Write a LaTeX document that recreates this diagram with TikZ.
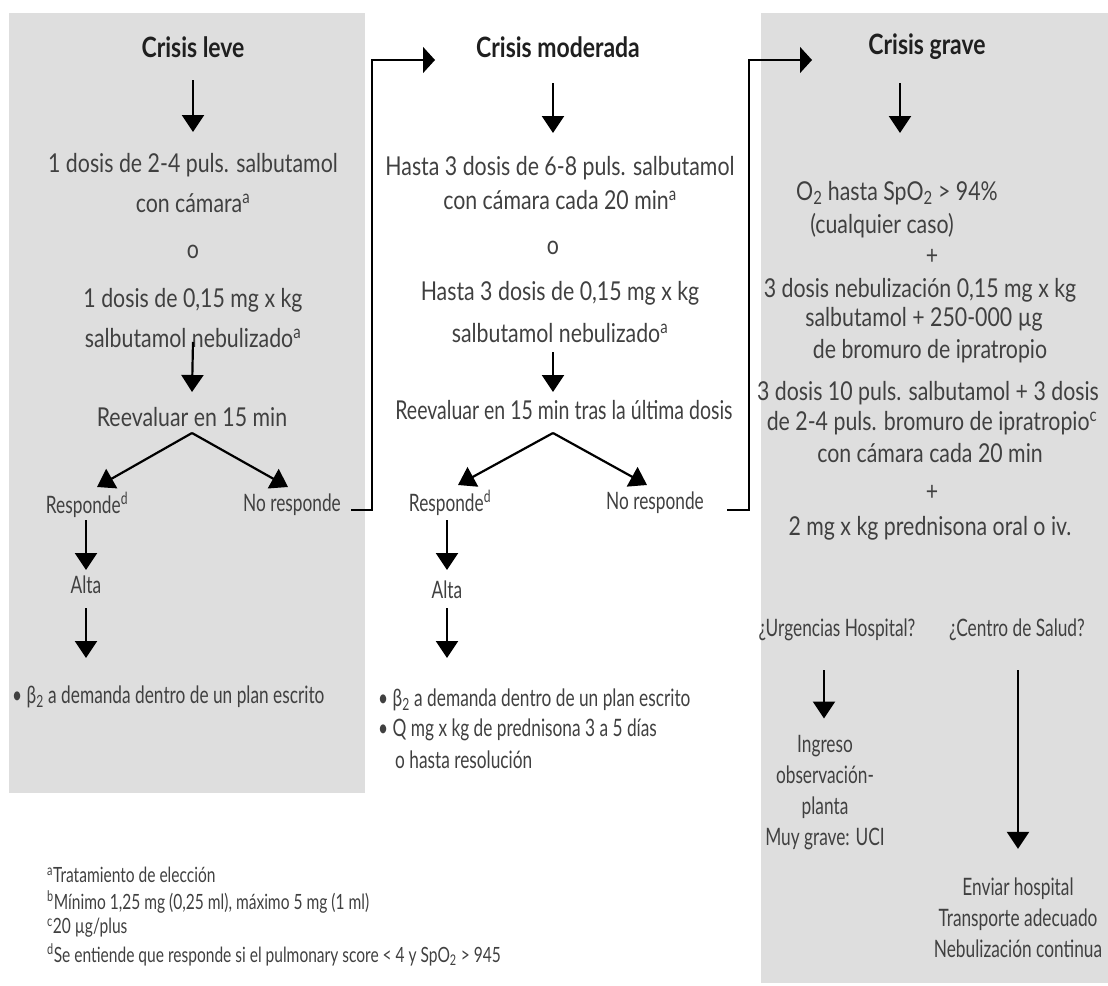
\documentclass[tikz,border=0pt]{standalone}
\usepackage{fontspec}
\setmainfont{Lato}
\usetikzlibrary{arrows.meta,calc}
\definecolor{panel}{HTML}{DEDEDE}
\definecolor{ink}{HTML}{404040}
\tikzset{
  txt/.style={font=\fontsize{26}{30}\selectfont\addfontfeatures{FakeStretch=0.82}, text=ink, inner sep=0pt, align=center},
  ttl/.style={font=\fontsize{28}{32}\selectfont\bfseries\addfontfeatures{FakeStretch=0.82}, text=black!88, inner sep=0pt},
  sm/.style={font=\fontsize{24}{28}\selectfont\addfontfeatures{FakeStretch=0.72}, text=ink, inner sep=0pt},
  stack/.style={sm, align=center, font=\fontsize{24}{31}\selectfont\addfontfeatures{FakeStretch=0.72}},
  note/.style={font=\fontsize{21}{25}\selectfont\addfontfeatures{FakeStretch=0.74}, text=ink, inner sep=0pt, anchor=west},
  down/.style={line width=2.2pt, -{Triangle[width=22pt,length=17pt]}},
  link/.style={line width=1.4pt, -{Triangle[width=26pt,length=12pt]}},
}
\begin{document}
\begin{tikzpicture}[x=1pt,y=-1pt]
\useasboundingbox (0,0) rectangle (1108,985);
% shaded panels for mild and severe crises
\fill[panel] (9,13) rectangle (365,793);
\fill[panel] (761,13) rectangle (1108,983);

% ---- mild crisis ----
\node[ttl] (L1) at (193,47) {Crisis leve};
\node[txt] (L2) at (193,165) {1 dosis de 2-4 puls. salbutamol};
\node[txt] (L3) at (193,203) {con cámara\textsuperscript{a}};
\node[txt] (L4) at (193,252) {o};
\node[txt] (L5) at (193,300) {1 dosis de 0,15 mg x kg};
\node[txt] (L6) at (193,338) {salbutamol nebulizado\textsuperscript{a}};
\node[txt] (L7) at (192,417) {Reevaluar en 15 min};
\node[sm] (L8) at (87,505) {Responde\textsuperscript{d}};
\node[sm] (L9) at (292,505) {No responde};
\node[sm] (L10) at (86,585) {Alta};
\node[sm, anchor=west] (L11) at (12,697) {• β\textsubscript{2} a demanda dentro de un plan escrito};

\draw[down] ($(L1.center)+(0,33)$) -- ($(L2.center)+(0,-33)$);
\draw[down] ($(L6.center)+(0,4)$) -- ($(L7.center)+(0,-25)$);
\draw[down] ($(L7.center)+(0,16)$) -- ($(L8.center)+(10,-18)$);
\draw[down] ($(L7.center)+(0,16)$) -- ($(L9.center)+(-4,-18)$);
\draw[down] ($(L8.center)+(-1,15)$) -- ($(L10.center)+(0,-15)$);
\draw[down] ($(L10.center)+(0,23)$) -- ($(L10.center |- L11.center)+(0,-39)$);

% ---- moderate crisis ----
\node[ttl] (M1) at (558,47) {Crisis moderada};
\node[txt] (M2) at (560,168) {Hasta 3 dosis de 6-8 puls. salbutamol};
\node[txt] (M3) at (560,200) {con cámara cada 20 min\textsuperscript{a}};
\node[txt] (M4) at (553,248) {o};
\node[txt] (M5) at (560,293) {Hasta 3 dosis de 0,15 mg x kg};
\node[txt] (M6) at (560,333) {salbutamol nebulizado\textsuperscript{a}};
\node[txt, font=\fontsize{26}{30}\selectfont\addfontfeatures{FakeStretch=0.75}] (M7) at (564,410)
  {Reevaluar en 15 min tras la última dosis};
\node[sm] (M8) at (450,503) {Responde\textsuperscript{d}};
\node[sm] (M9) at (655,503) {No responde};
\node[sm] (M10) at (447,590) {Alta};
\node[sm, anchor=west] (M11) at (378,700) {• β\textsubscript{2} a demanda dentro de un plan escrito};
\node[sm, anchor=west] (M12) at (378,730) {• Q mg x kg de prednisona 3 a 5 días};
\node[sm, anchor=west] (M13) at (395,760) {o hasta resolución};

\draw[down] ($(M1.center)+(-5,36)$) -- ($(M2.center)+(-7,-35)$);
\draw[down] ($(M6.center)+(-7,19)$) -- ($(M7.center)+(-11,-18)$);
\draw[down] ($(M7.center)+(-11,23)$) -- ($(M8.center)+(8,-18)$);
\draw[down] ($(M7.center)+(-11,23)$) -- ($(M9.center)+(-8,-18)$);
\draw[down] ($(M8.center)+(-3,17)$) -- ($(M10.center)+(0,-20)$);
\draw[down] ($(M10.center)+(0,18)$) -- ($(M10.center |- M11.center)+(0,-42)$);

% ---- severe crisis ----
\node[ttl] (R1) at (927,47) {Crisis grave};
\node[txt] (R2) at (897,193) {O\textsubscript{2} hasta SpO\textsubscript{2} > 94\%};
\node[txt] (R3) at (882,226) {(cualquier caso)};
\node[txt] (R4) at (932,257) {+};
\node[txt] (R5) at (920,290) {3 dosis nebulización 0,15 mg x kg};
\node[txt] (R6) at (924,319) {salbutamol + 250-000 µg};
\node[txt] (R7) at (930,351) {de bromuro de ipratropio};
\node[txt] (R8) at (928,393) {3 dosis 10 puls. salbutamol + 3 dosis};
\node[txt] (R9) at (932,423) {de 2-4 puls. bromuro de ipratropio\textsuperscript{c}};
\node[txt] (R10) at (930,453) {con cámara cada 20 min};
\node[txt] (R11) at (932,493) {+};
\node[txt] (R12) at (930,528) {2 mg x kg prednisona oral o iv.};
\node[sm] (R13) at (837,630) {¿Urgencias Hospital?};
\node[sm] (R14) at (1017,630) {¿Centro de Salud?};
\node[stack] (R15) at (825,793) {Ingreso\\observación-\\planta\\Muy grave: UCI};
\node[stack] (R16) at (1018,918) {Enviar hospital\\Transporte adecuado\\Nebulización continua};

\draw[down] ($(R1.center)+(-27,36)$) -- ($(R1.center)+(-27,86)$);
\draw[down] ($(R13.center)+(-13,40)$) -- ($(R15.north)+(-1,-17)$);
\draw[down] ($(R14.center)+(1,40)$) -- ($(R16.north)+(0,-29)$);

% ---- escalation links ----
\draw[link] ($(L9.east)+(10,5)$) -- ++(21,0) |- ($(M1.center)+(-123,13)$);
\draw[link] ($(M9.east)+(23,7)$) -- ++(22,0) |- ($(R1.center)+(-115,13)$);

% ---- footnotes ----
\node[note] (Fa) at (47,875) {\textsuperscript{a}Tratamiento de elección};
\node[note] (Fb) at (47,902) {\textsuperscript{b}Mínimo 1,25 mg (0,25 ml), máximo 5 mg (1 ml)};
\node[note] (Fc) at (47,928) {\textsuperscript{c}20 µg/plus};
\node[note] (Fd) at (47,955) {\textsuperscript{d}Se entiende que responde si el pulmonary score < 4 y SpO\textsubscript{2} > 945};
\end{tikzpicture}
\end{document}
